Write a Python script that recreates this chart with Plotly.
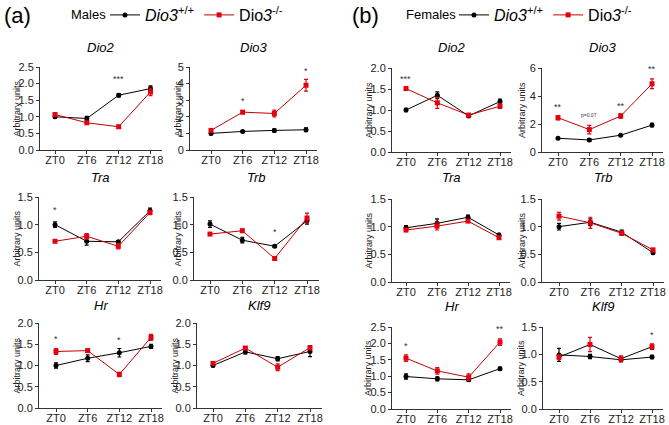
import plotly.graph_objects as go

W, H = 669, 425

zt = ["ZT0", "ZT6", "ZT12", "ZT18"]

# ---- males (a) ----
m_dio2_wt = [1.00, 0.95, 1.65, 1.85]
m_dio2_wt_err = [0.05, 0.06, 0.05, 0.08]
m_dio2_ko = [1.07, 0.82, 0.70, 1.75]
m_dio2_ko_err = [0.04, 0.04, 0.04, 0.11]
m_dio2_star = ["", "", "***", ""]
m_dio2_star_y = [None, None, 2.15, None]

m_dio3_wt = [1.00, 1.12, 1.18, 1.22]
m_dio3_wt_err = [0.07, 0.05, 0.10, 0.12]
m_dio3_ko = [1.18, 2.28, 2.20, 3.90]
m_dio3_ko_err = [0.08, 0.10, 0.20, 0.35]
m_dio3_star = ["", "*", "", "*"]
m_dio3_star_y = [None, 2.95, None, 4.75]

m_tra_wt = [1.00, 0.70, 0.69, 1.25]
m_tra_wt_err = [0.05, 0.07, 0.02, 0.05]
m_tra_ko = [0.70, 0.79, 0.61, 1.22]
m_tra_ko_err = [0.02, 0.05, 0.05, 0.04]
m_tra_star = ["*", "", "", ""]
m_tra_star_y = [1.26, None, None, None]

m_trb_wt = [1.01, 0.72, 0.61, 1.07]
m_trb_wt_err = [0.06, 0.05, 0.02, 0.06]
m_trb_ko = [0.83, 0.89, 0.39, 1.12]
m_trb_ko_err = [0.02, 0.03, 0.03, 0.09]
m_trb_star = ["", "", "*", ""]
m_trb_star_y = [None, None, 0.86, None]

m_hr_wt = [1.00, 1.17, 1.30, 1.45]
m_hr_wt_err = [0.06, 0.08, 0.10, 0.05]
m_hr_ko = [1.33, 1.35, 0.79, 1.66]
m_hr_ko_err = [0.07, 0.03, 0.05, 0.07]
m_hr_star = ["*", "", "*", ""]
m_hr_star_y = [1.63, None, 1.60, None]

m_klf9_wt = [1.00, 1.32, 1.16, 1.33]
m_klf9_wt_err = [0.03, 0.05, 0.05, 0.12]
m_klf9_ko = [1.05, 1.41, 0.96, 1.42]
m_klf9_ko_err = [0.02, 0.03, 0.08, 0.05]
m_klf9_star = ["", "", "", ""]
m_klf9_star_y = [None, None, None, None]

# ---- females (b) ----
f_dio2_wt = [1.00, 1.35, 0.86, 1.20]
f_dio2_wt_err = [0.04, 0.08, 0.03, 0.06]
f_dio2_ko = [1.51, 1.17, 0.88, 1.09]
f_dio2_ko_err = [0.04, 0.13, 0.03, 0.05]
f_dio2_star = ["***", "", "", ""]
f_dio2_star_y = [1.75, None, None, None]

f_dio3_wt = [0.98, 0.86, 1.20, 1.92]
f_dio3_wt_err = [0.04, 0.10, 0.04, 0.12]
f_dio3_ko = [2.45, 1.60, 2.57, 4.87]
f_dio3_ko_err = [0.15, 0.30, 0.15, 0.35]
f_dio3_star = ["**", "p=0.07", "**", "**"]
f_dio3_star_y = [3.25, 2.65, 3.3, 5.9]

f_tra_wt = [0.98, 1.06, 1.17, 0.85]
f_tra_wt_err = [0.04, 0.08, 0.04, 0.03]
f_tra_ko = [0.94, 1.01, 1.10, 0.80]
f_tra_ko_err = [0.03, 0.07, 0.02, 0.03]
f_tra_star = ["", "", "", ""]
f_tra_star_y = [None, None, None, None]

f_trb_wt = [1.00, 1.08, 0.90, 0.53]
f_trb_wt_err = [0.06, 0.06, 0.04, 0.03]
f_trb_ko = [1.19, 1.07, 0.88, 0.58]
f_trb_ko_err = [0.07, 0.10, 0.04, 0.03]
f_trb_star = ["", "", "", ""]
f_trb_star_y = [None, None, None, None]

f_hr_wt = [0.99, 0.92, 0.89, 1.23]
f_hr_wt_err = [0.08, 0.06, 0.05, 0.05]
f_hr_ko = [1.55, 1.16, 0.97, 2.04]
f_hr_ko_err = [0.10, 0.10, 0.10, 0.10]
f_hr_star = ["*", "", "", "**"]
f_hr_star_y = [1.92, None, None, 2.45]

f_klf9_wt = [0.99, 0.96, 0.90, 0.95]
f_klf9_wt_err = [0.12, 0.04, 0.04, 0.03]
f_klf9_ko = [0.95, 1.18, 0.92, 1.14]
f_klf9_ko_err = [0.04, 0.13, 0.05, 0.05]
f_klf9_star = ["", "", "", "*"]
f_klf9_star_y = [None, None, None, 1.36]

# title, wt, wt_err, ko, ko_err, stars, star_y, ymax, dtick, fmt, ko line colour
RED = "#e3000f"
DRED = "#c40000"
panels = [
    ("Dio2", m_dio2_wt, m_dio2_wt_err, m_dio2_ko, m_dio2_ko_err, m_dio2_star, m_dio2_star_y, 2.5, 0.5, ".1f", DRED),
    ("Dio3", m_dio3_wt, m_dio3_wt_err, m_dio3_ko, m_dio3_ko_err, m_dio3_star, m_dio3_star_y, 5, 1, "d", DRED),
    ("Tra", m_tra_wt, m_tra_wt_err, m_tra_ko, m_tra_ko_err, m_tra_star, m_tra_star_y, 1.5, 0.5, ".1f", DRED),
    ("Trb", m_trb_wt, m_trb_wt_err, m_trb_ko, m_trb_ko_err, m_trb_star, m_trb_star_y, 1.5, 0.5, ".1f", DRED),
    ("Hr", m_hr_wt, m_hr_wt_err, m_hr_ko, m_hr_ko_err, m_hr_star, m_hr_star_y, 2.0, 0.5, ".1f", DRED),
    ("Klf9", m_klf9_wt, m_klf9_wt_err, m_klf9_ko, m_klf9_ko_err, m_klf9_star, m_klf9_star_y, 2.0, 0.5, ".1f", DRED),
    ("Dio2", f_dio2_wt, f_dio2_wt_err, f_dio2_ko, f_dio2_ko_err, f_dio2_star, f_dio2_star_y, 2.0, 0.5, ".1f", DRED),
    ("Dio3", f_dio3_wt, f_dio3_wt_err, f_dio3_ko, f_dio3_ko_err, f_dio3_star, f_dio3_star_y, 6, 2, "d", DRED),
    ("Tra", f_tra_wt, f_tra_wt_err, f_tra_ko, f_tra_ko_err, f_tra_star, f_tra_star_y, 1.5, 0.5, ".1f", DRED),
    ("Trb", f_trb_wt, f_trb_wt_err, f_trb_ko, f_trb_ko_err, f_trb_star, f_trb_star_y, 1.5, 0.5, ".1f", DRED),
    ("Hr", f_hr_wt, f_hr_wt_err, f_hr_ko, f_hr_ko_err, f_hr_star, f_hr_star_y, 2.5, 0.5, ".1f", DRED),
    ("Klf9", f_klf9_wt, f_klf9_wt_err, f_klf9_ko, f_klf9_ko_err, f_klf9_star, f_klf9_star_y, 1.5, 0.5, ".1f", "black"),
]

# pixel layout: axis left, ZT0 x, ZT18 x, top, bottom, title y, ylabel x
boxes = [
    (40, 55, 150.5, 67, 150, 48, 16),
    (190, 211, 306, 67, 150, 48, 177),
    (39, 55, 150, 197, 280, 177, 16),
    (194, 210, 307, 197, 280, 177, 177),
    (39, 56, 151, 323, 408, 305, 16),
    (197, 213, 310, 323, 408, 305, 174),
    (392, 406, 500, 68, 152, 48, 369),
    (542, 558, 652, 68, 152, 48, 522),
    (392, 406, 499, 199, 282, 177, 368),
    (542, 559, 653, 199, 282, 177, 521),
    (392, 406, 500, 327, 409, 306, 368),
    (543, 559, 652, 327, 409, 306, 521),
]

AX = "#333333"
wt_name = "<i>Dio3</i><sup>+/+</sup>"
ko_name = "Dio<i>3</i><sup>-/-</sup>"

fig = go.Figure()
annotations = []
layout = {}


def paper_text(txt, px, py, size, **kw):
    d = dict(text=txt, x=px / W, y=1 - py / H, xref="paper", yref="paper",
             xanchor="center", yanchor="middle", showarrow=False,
             font=dict(size=size, color="black"))
    d.update(kw)
    return d


for i, (p, b) in enumerate(zip(panels, boxes), start=1):
    title, wt, wt_err, ko, ko_err, star, star_y, ymax, dtick, fmt, ko_line = p
    left, z0, z18, top, bot, ty, lx = b
    s = (z18 - z0) / 3
    right = z18 + 0.36 * s
    xa = "x" if i == 1 else f"x{i}"
    ya = "y" if i == 1 else f"y{i}"
    leg = "legend" if i <= 6 else "legend2"
    first = i in (1, 7)

    fig.add_trace(go.Scatter(
        x=zt, y=wt, xaxis=xa, yaxis=ya, name=wt_name, legend=leg,
        showlegend=first, mode="lines+markers", cliponaxis=False,
        line=dict(color="black", width=1),
        marker=dict(symbol="circle", size=5, color="black"),
        error_y=dict(type="data", array=wt_err, color="black", thickness=1.2, width=2),
    ))
    fig.add_trace(go.Scatter(
        x=zt, y=ko, xaxis=xa, yaxis=ya, name=ko_name, legend=leg,
        showlegend=first, mode="lines+markers", cliponaxis=False,
        line=dict(color=ko_line, width=1),
        marker=dict(symbol="square", size=5, color=RED),
        error_y=dict(type="data", array=ko_err, color=RED, thickness=1.2, width=2),
    ))

    layout[f"xaxis{i}"] = dict(
        domain=[left / W, right / W], anchor=ya, type="category",
        categoryorder="array", categoryarray=zt,
        range=[-(z0 - left) / s, 3.36],
        showline=True, linecolor=AX, linewidth=1,
        ticks="outside", ticklen=3, tickcolor=AX,
        tickfont=dict(size=11, color="#222222"), ticklabelstandoff=-3,
        showgrid=False, zeroline=False, fixedrange=True,
    )
    layout[f"yaxis{i}"] = dict(
        domain=[1 - bot / H, 1 - top / H], anchor=xa,
        range=[0, ymax], dtick=dtick, tick0=0, tickformat=fmt,
        showline=True, linecolor=AX, linewidth=1,
        ticks="outside", ticklen=3, tickcolor=AX,
        tickfont=dict(size=11, color="#222222"), ticklabelstandoff=0,
        showgrid=False, zeroline=False, fixedrange=True,
    )

    annotations.append(paper_text(f"<i>{title}</i>", (left + right) / 2, ty, 13))
    annotations.append(paper_text("Arbitrary units", lx, (top + bot) / 2, 9,
                                  textangle=-90, font=dict(size=9, color="#222222")))
    for cat, txt, sy in zip(zt, star, star_y):
        if txt:
            annotations.append(dict(
                text=txt, x=cat, y=sy, xref=xa, yref=ya, showarrow=False,
                xanchor="center", yanchor="middle",
                font=dict(size=5 if txt.startswith("p") else 9, color="#333333"),
            ))

annotations.append(paper_text("(a)", 2, 16, 22, xanchor="left"))
annotations.append(paper_text("(b)", 350, 16, 22, xanchor="left"))
annotations.append(paper_text("Males", 69, 15, 13, xanchor="left"))
annotations.append(paper_text("Females", 404, 15, 13, xanchor="left"))

legend_common = dict(
    orientation="h", yanchor="middle", xanchor="left",
    font=dict(size=16, color="black"), bgcolor="rgba(0,0,0,0)",
    itemwidth=30, tracegroupgap=0,
)

fig.update_layout(
    width=W, height=H,
    margin=dict(l=0, r=0, t=0, b=0, autoexpand=False),
    paper_bgcolor="white", plot_bgcolor="white",
    font=dict(family="Liberation Sans, Arial, sans-serif"),
    annotations=annotations,
    legend=dict(x=105 / W, y=1 - 15 / H, **legend_common),
    legend2=dict(x=454 / W, y=1 - 15 / H, **legend_common),
    **layout,
)

# the page body has a default 8px margin; drop it so the figure fills the window
fig.write_html("out.html", config={"displayModeBar": False},
               post_script="document.body.style.margin='0';")
